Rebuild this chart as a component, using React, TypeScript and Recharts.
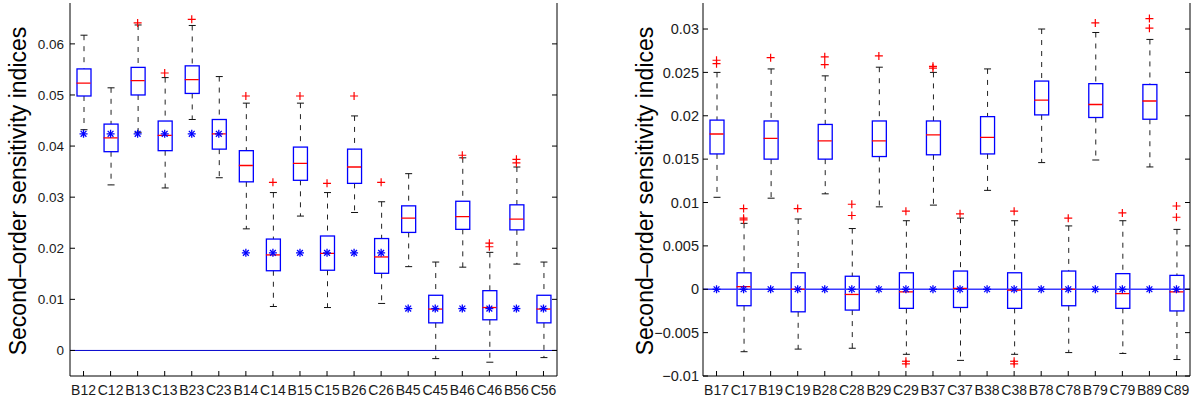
import { ComposedChart, Bar, Scatter, XAxis, YAxis, ReferenceLine } from 'recharts';

const FONT = '"Liberation Sans", Arial, Helvetica, sans-serif';
const BLUE = '#0000ff';
const RED = '#ff0000';
const Y_TITLE = 'Second–order sensitivity indices';

// left panel: pairs among factors 1..6
const leftCategories = ['B12', 'C12', 'B13', 'C13', 'B23', 'C23', 'B14', 'C14', 'B15', 'C15', 'B26', 'C26', 'B45', 'C45', 'B46', 'C46', 'B56', 'C56'];
const leftQ1 = [0.0498, 0.0389, 0.05, 0.0391, 0.0503, 0.0394, 0.033, 0.0156, 0.0333, 0.0157, 0.0327, 0.0151, 0.0231, 0.0054, 0.0237, 0.006, 0.0236, 0.0054];
const leftMedian = [0.0523, 0.0416, 0.0528, 0.0421, 0.053, 0.0424, 0.0362, 0.0187, 0.0366, 0.019, 0.0359, 0.0183, 0.0259, 0.0081, 0.0262, 0.0084, 0.0257, 0.0081];
const leftQ3 = [0.0551, 0.0443, 0.0554, 0.0449, 0.0557, 0.0452, 0.0391, 0.0218, 0.0398, 0.0224, 0.0394, 0.0219, 0.0283, 0.0108, 0.0292, 0.0117, 0.0285, 0.0108];
const leftLow = [0.0432, 0.0324, 0.0427, 0.0318, 0.0452, 0.0338, 0.0238, 0.0086, 0.0263, 0.0084, 0.027, 0.0092, 0.0164, -0.0016, 0.0163, -0.0023, 0.0169, -0.0014];
const leftHigh = [0.0617, 0.0514, 0.0637, 0.0534, 0.0636, 0.0536, 0.0484, 0.0309, 0.0484, 0.0309, 0.0459, 0.0291, 0.0346, 0.0173, 0.0377, 0.0192, 0.0359, 0.0173];
const leftOutliers: number[][] = [[], [], [0.0641], [0.0543], [0.0648], [], [0.0498], [0.0329], [0.0498], [0.0327], [0.0498], [0.0329], [], [], [0.0382], [0.021, 0.0203], [0.0374, 0.0367], []];
const leftAnalytic = [0.0424, 0.0424, 0.0424, 0.0424, 0.0424, 0.0424, 0.0191, 0.0191, 0.0191, 0.0191, 0.0191, 0.0191, 0.0082, 0.0082, 0.0082, 0.0082, 0.0082, 0.0082];
const leftYTicks = [0, 0.01, 0.02, 0.03, 0.04, 0.05, 0.06];

// right panel: pairs among factors 1..9
const rightCategories = ['B17', 'C17', 'B19', 'C19', 'B28', 'C28', 'B29', 'C29', 'B37', 'C37', 'B38', 'C38', 'B78', 'C78', 'B79', 'C79', 'B89', 'C89'];
const rightQ1 = [0.0156, -0.0019, 0.015, -0.0026, 0.015, -0.0024, 0.0153, -0.0022, 0.0155, -0.0021, 0.0156, -0.0022, 0.0201, -0.0019, 0.0198, -0.0022, 0.0196, -0.0025];
const rightMedian = [0.0179, 0.0003, 0.0174, 0.0, 0.0171, -0.0006, 0.0171, -0.0003, 0.0178, 0.0001, 0.0175, -0.0001, 0.0218, 0.0, 0.0213, -0.0005, 0.0217, -0.0003];
const rightQ3 = [0.0195, 0.0019, 0.0194, 0.0019, 0.019, 0.0015, 0.0194, 0.0019, 0.0194, 0.0021, 0.0199, 0.0019, 0.024, 0.0021, 0.0237, 0.0018, 0.0236, 0.0016];
const rightLow = [0.0106, -0.0072, 0.0105, -0.0069, 0.011, -0.0068, 0.0095, -0.0075, 0.0097, -0.0082, 0.0114, -0.0075, 0.0146, -0.0073, 0.0149, -0.0074, 0.0141, -0.0081];
const rightHigh = [0.025, 0.0076, 0.0254, 0.0081, 0.0246, 0.007, 0.0256, 0.0079, 0.025, 0.0082, 0.0254, 0.0079, 0.03, 0.0073, 0.0296, 0.0079, 0.0288, 0.0069];
const rightOutliers: number[][] = [[0.0264, 0.026], [0.0093, 0.0082, 0.008], [0.0267], [0.0093], [0.0268, 0.0259], [0.0098, 0.0085], [0.0269], [0.009, -0.0083, -0.0086], [0.0257, 0.0255], [0.0087], [], [0.009, -0.0083, -0.0086], [], [0.0082], [0.0307], [0.0088], [0.0312, 0.0301], [0.0096, 0.0083]];
const rightAnalytic = [0, 0, 0, 0, 0, 0, 0, 0, 0, 0, 0, 0, 0, 0, 0, 0, 0, 0];
const rightYTicks = [-0.01, -0.005, 0, 0.005, 0.01, 0.015, 0.02, 0.025, 0.03];

function buildRows(
  categories: string[],
  q1: number[],
  median: number[],
  q3: number[],
  low: number[],
  high: number[],
  outliers: number[][],
  analytic: number[],
) {
  return categories.map((name, i) => ({
    name,
    box: [q1[i], q3[i]],
    upper: [q3[i], high[i]],
    lower: [low[i], q1[i]],
    median: median[i],
    analytic: analytic[i],
    out1: outliers[i][0] ?? null,
    out2: outliers[i][1] ?? null,
    out3: outliers[i][2] ?? null,
  }));
}

const leftRows = buildRows(leftCategories, leftQ1, leftMedian, leftQ3, leftLow, leftHigh, leftOutliers, leftAnalytic);
const rightRows = buildRows(rightCategories, rightQ1, rightMedian, rightQ3, rightLow, rightHigh, rightOutliers, rightAnalytic);

const formatTick = (v: number) => (v < 0 ? '\u2212' + String(Math.abs(v)) : String(v));

// --- marks ---
const BoxShape = (props: any) => {
  const { x, y, width, height } = props;
  const top = Math.min(y, y + height);
  return <rect x={x} y={top} width={width} height={Math.abs(height)} fill="none" stroke={BLUE} strokeWidth={1.3} />;
};

const makeWhisker = (capAtTop: boolean) => (props: any) => {
  const { x, y, width, height } = props;
  const cx = x + width / 2;
  const top = Math.min(y, y + height);
  const bottom = Math.max(y, y + height);
  const capY = capAtTop ? top : bottom;
  return (
    <g>
      <line x1={cx} x2={cx} y1={top} y2={bottom} stroke="#222" strokeDasharray="5 6" />
      <line x1={cx - 3.5} x2={cx + 3.5} y1={capY} y2={capY} stroke="#111" />
    </g>
  );
};

const MedianShape = (props: any) => {
  const { cx, cy } = props;
  return <line x1={cx - 7} x2={cx + 7} y1={cy} y2={cy} stroke={RED} strokeWidth={1.3} />;
};

const AsteriskShape = (props: any) => {
  const { cx, cy } = props;
  const r = 4;
  const d = 2.9;
  return (
    <g stroke={BLUE} strokeWidth={1.3}>
      <line x1={cx - r} x2={cx + r} y1={cy} y2={cy} />
      <line x1={cx} x2={cx} y1={cy - r} y2={cy + r} />
      <line x1={cx - d} x2={cx + d} y1={cy - d} y2={cy + d} />
      <line x1={cx - d} x2={cx + d} y1={cy + d} y2={cy - d} />
    </g>
  );
};

const makePlus = (key: 'out1' | 'out2' | 'out3') => (props: any) => {
  const { cx, cy, payload } = props;
  if (payload == null || payload[key] == null || !Number.isFinite(cy)) return <g />;
  const r = 4;
  return (
    <g stroke={RED} strokeWidth={1.2}>
      <line x1={cx - r} x2={cx + r} y1={cy} y2={cy} />
      <line x1={cx} x2={cx} y1={cy - r} y2={cy + r} />
    </g>
  );
};

// --- inward ticks (matlab style) ---
const makeLeftTick = (fontSize: number, gap: number) => (props: any) => {
  const { x, y, payload } = props;
  return (
    <g>
      <line x1={x} x2={x + 5} y1={y} y2={y} stroke="#000" />
      <text x={x - gap} y={y} dy="0.36em" textAnchor="end" fontSize={fontSize} fontFamily={FONT} fill="#1a1a1a">
        {formatTick(payload.value)}
      </text>
    </g>
  );
};

const RightTick = (props: any) => {
  const { x, y } = props;
  return <line x1={x} x2={x - 5} y1={y} y2={y} stroke="#000" />;
};

const makeBottomTick = (fontSize: number, baseline: number) => (props: any) => {
  const { x, y, payload } = props;
  return (
    <g>
      <line x1={x} x2={x} y1={y} y2={y - 5} stroke="#000" />
      <text x={x} y={y + baseline} textAnchor="middle" fontSize={fontSize} fontFamily={FONT} fill="#1a1a1a">
        {payload.value}
      </text>
    </g>
  );
};

const TopTick = (props: any) => {
  const { x, y } = props;
  return <line x1={x} x2={x} y1={y} y2={y + 5} stroke="#000" />;
};

interface PanelProps {
  rows: ReturnType<typeof buildRows>;
  domain: [number, number];
  yTicks: number[];
  width: number;
  yAxisWidth: number;
  rightMargin: number;
  labelX: number;
  yTickFont: number;
  yTickGap: number;
  xTickFont: number;
  zeroColor: string;
  zeroWidth: number;
}

function BoxPlotPanel({ rows, domain, yTicks, width, yAxisWidth, rightMargin, labelX, yTickFont, yTickGap, xTickFont, zeroColor, zeroWidth }: PanelProps) {
  return (
    <ComposedChart width={width} height={405} data={rows} margin={{ top: 3, right: rightMargin, bottom: 0, left: 0 }}>
      <XAxis
        xAxisId="b"
        dataKey="name"
        type="category"
        height={29}
        interval={0}
        tickSize={0}
        tickMargin={0}
        tickLine={false}
        axisLine={{ stroke: '#000' }}
        tick={makeBottomTick(xTickFont, 18.8)}
      />
      <XAxis
        xAxisId="t"
        orientation="top"
        dataKey="name"
        type="category"
        height={0}
        interval={0}
        tickSize={0}
        tickMargin={0}
        tickLine={false}
        axisLine={{ stroke: '#000' }}
        tick={TopTick}
      />
      <XAxis xAxisId="w" dataKey="name" type="category" hide />
      <YAxis
        yAxisId="l"
        type="number"
        domain={domain}
        allowDataOverflow
        ticks={yTicks}
        interval={0}
        width={yAxisWidth}
        tickSize={0}
        tickMargin={0}
        tickLine={false}
        axisLine={{ stroke: '#000' }}
        tick={makeLeftTick(yTickFont, yTickGap)}
        label={{
          content: () => (
            <text
              x={labelX}
              y={191}
              transform={`rotate(-90 ${labelX} 191)`}
              textAnchor="middle"
              fontSize={23}
              fontFamily={FONT}
              fill="#000"
            >
              {Y_TITLE}
            </text>
          ),
        }}
      />
      <YAxis
        yAxisId="r"
        orientation="right"
        type="number"
        domain={domain}
        allowDataOverflow
        ticks={yTicks}
        interval={0}
        width={1}
        tickSize={0}
        tickMargin={0}
        tickLine={false}
        axisLine={{ stroke: '#000' }}
        tick={RightTick}
      />

      <ReferenceLine xAxisId="b" yAxisId="l" y={0} stroke={zeroColor} strokeWidth={zeroWidth} />

      {/* whiskers, then box outline */}
      <Bar xAxisId="t" yAxisId="l" dataKey="upper" barSize={14} shape={makeWhisker(true)} isAnimationActive={false} />
      <Bar xAxisId="w" yAxisId="l" dataKey="lower" barSize={14} shape={makeWhisker(false)} isAnimationActive={false} />
      <Bar xAxisId="b" yAxisId="l" dataKey="box" barSize={14} shape={BoxShape} isAnimationActive={false} />

      <Scatter xAxisId="b" yAxisId="l" dataKey="median" shape={MedianShape} isAnimationActive={false} />
      <Scatter xAxisId="b" yAxisId="l" dataKey="analytic" shape={AsteriskShape} isAnimationActive={false} />
      <Scatter xAxisId="b" yAxisId="r" dataKey="out1" shape={makePlus('out1')} isAnimationActive={false} />
      <Scatter xAxisId="b" yAxisId="r" dataKey="out2" shape={makePlus('out2')} isAnimationActive={false} />
      <Scatter xAxisId="b" yAxisId="r" dataKey="out3" shape={makePlus('out3')} isAnimationActive={false} />
    </ComposedChart>
  );
}

export default function App() {
  return (
    <div style={{ position: 'absolute', left: 0, top: 0, width: 1198, height: 405, background: '#fff' }}>
      <div style={{ position: 'absolute', left: 0, top: 0 }}>
        <BoxPlotPanel
          rows={leftRows}
          domain={[-0.005, 0.068]}
          yTicks={leftYTicks}
          width={600}
          yAxisWidth={70}
          rightMargin={42}
          labelX={26}
          yTickFont={13.5}
          yTickGap={6}
          xTickFont={14}
          zeroColor="#0000cc"
          zeroWidth={1}
        />
      </div>
      <div style={{ position: 'absolute', left: 600, top: 0 }}>
        <BoxPlotPanel
          rows={rightRows}
          domain={[-0.01, 0.033]}
          yTicks={rightYTicks}
          width={598}
          yAxisWidth={103}
          rightMargin={7}
          labelX={53}
          yTickFont={14.5}
          yTickGap={4}
          xTickFont={14}
          zeroColor="#3a3aff"
          zeroWidth={1.6}
        />
      </div>
    </div>
  );
}
